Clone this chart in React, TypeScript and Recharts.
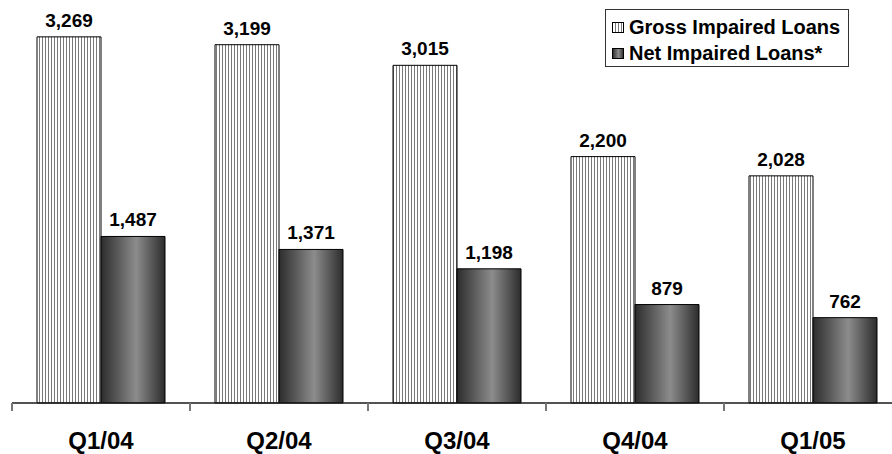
import React from "react";
import { BarChart, Bar, XAxis, YAxis, Legend, LabelList } from "recharts";

const categories = ["Q1/04", "Q2/04", "Q3/04", "Q4/04", "Q1/05"];
const grossImpaired = [3269, 3199, 3015, 2200, 2028];
const netImpaired = [1487, 1371, 1198, 879, 762];
const seriesNames = ["Gross Impaired Loans", "Net Impaired Loans*"];

const data = categories.map((q, i) => ({
  q,
  gross: grossImpaired[i],
  net: netImpaired[i],
}));

const FONT = "'Liberation Sans', Arial, Helvetica, sans-serif";

const fmt = (v: any) => Number(v).toLocaleString("en-US");

const Defs = ({ prefix }: { prefix: string }) => (
  <defs>
    <pattern id={`${prefix}stripes`} patternUnits="userSpaceOnUse" width={3} height={10}>
      <rect x={0} y={0} width={3} height={10} fill="#ffffff" />
      <rect x={0} y={0} width={1} height={10} fill="#7a7a7a" />
    </pattern>
    <linearGradient id={`${prefix}netGrad`} x1="0" y1="0" x2="1" y2="0">
      <stop offset="0%" stopColor="#2c2c2c" />
      <stop offset="55%" stopColor="#8c8c8c" />
      <stop offset="100%" stopColor="#2c2c2c" />
    </linearGradient>
  </defs>
);

const CustomTick = (props: any) => {
  const { x, y, payload } = props;
  const half = payload && payload.offset ? payload.offset : 89;
  return (
    <g>
      <line x1={x - half} y1={y} x2={x - half} y2={y + 8} stroke="#777" strokeWidth={2} />
      <text
        x={x}
        y={y + 46}
        textAnchor="middle"
        fontFamily={FONT}
        fontWeight="bold"
        fontSize={24}
        fill="#000"
      >
        {payload.value}
      </text>
    </g>
  );
};

const CustomLegend = (props: any) => {
  const payload = props.payload || [];
  return (
    <div
      style={{
        border: "1px solid #333",
        background: "#fff",
        width: 242,
        height: 56,
        boxSizing: "content-box",
        fontFamily: FONT,
        fontWeight: "bold",
        fontSize: 20,
        color: "#000",
      }}
    >
      <div style={{ paddingTop: 4 }}>
        {payload.map((entry: any, i: number) => (
          <div
            key={i}
            style={{ display: "flex", alignItems: "center", height: 26, lineHeight: "26px", paddingLeft: 6 }}
          >
            <svg width={12} height={11} style={{ marginRight: 5, flexShrink: 0 }}>
              <Defs prefix={`lg${i}`} />
              <rect
                x={0.5}
                y={0.5}
                width={11}
                height={10}
                fill={entry.dataKey === "gross" ? `url(#lg${i}stripes)` : `url(#lg${i}netGrad)`}
                stroke="#000"
                strokeWidth={1}
              />
            </svg>
            <span style={{ whiteSpace: "nowrap" }}>{entry.value}</span>
          </div>
        ))}
      </div>
    </div>
  );
};

export default function App() {
  return (
    <div
      style={{
        position: "absolute",
        left: 0,
        top: 0,
        width: 892,
        height: 454,
        overflow: "hidden",
        background: "#fff",
      }}
    >
      <BarChart
        width={910}
        height={454}
        data={data}
        margin={{ top: 11, right: 8, left: 12, bottom: 0 }}
        barGap={0}
        barSize={64}
      >
        <Defs prefix="ch" />
        <XAxis
          dataKey="q"
          height={51}
          tickSize={0}
          tickMargin={0}
          tickLine={false}
          axisLine={{ stroke: "#1a1a1a", strokeWidth: 1.5 }}
          tick={<CustomTick />}
          interval={0}
        />
        <YAxis hide domain={[0, 3500]} />
        <Legend
          layout="horizontal"
          verticalAlign="middle"
          align="center"
          content={<CustomLegend />}
          wrapperStyle={{ position: "absolute", top: 9, left: 605, width: 244, height: 58 }}
        />
        <Bar
          dataKey="gross"
          name={seriesNames[0]}
          fill="url(#chstripes)"
          stroke="#000"
          strokeWidth={1}
          isAnimationActive={false}
        >
          <LabelList
            dataKey="gross"
            position="top"
            offset={10}
            formatter={fmt}
            style={{ fontFamily: FONT, fontWeight: "bold", fontSize: 19, fill: "#000" }}
          />
        </Bar>
        <Bar
          dataKey="net"
          name={seriesNames[1]}
          fill="url(#chnetGrad)"
          stroke="#000"
          strokeWidth={1}
          isAnimationActive={false}
        >
          <LabelList
            dataKey="net"
            position="top"
            offset={10}
            formatter={fmt}
            style={{ fontFamily: FONT, fontWeight: "bold", fontSize: 19, fill: "#000" }}
          />
        </Bar>
      </BarChart>
    </div>
  );
}
